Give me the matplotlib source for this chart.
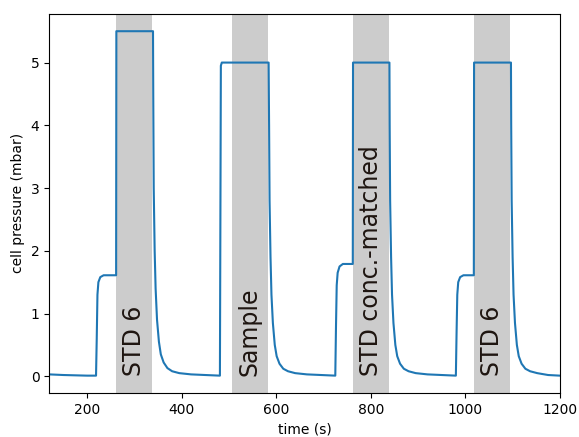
import numpy as np
import matplotlib.pyplot as plt

# cell pressure trace (time in s, pressure in mbar)
time_s = [120, 150, 200, 219, 220.5, 222, 224, 228, 235, 261.5, 262, 339.5,
          340, 341, 343, 345, 348, 352, 356, 362, 370, 380, 395, 420, 450, 481,
          482, 483, 485, 584, 585, 586, 588, 590, 593, 597, 601, 607, 615, 625,
          640, 665, 695, 725,
          726.5, 728, 730, 734, 741, 762, 762.5, 839.5, 840, 841, 843, 845, 848,
          852, 856, 862, 870, 880, 895, 920, 950, 980,
          981.5, 983, 985, 989, 996, 1018, 1018.5, 1096.5, 1097, 1098, 1100,
          1102, 1105, 1109, 1113, 1119, 1127, 1137, 1152, 1175, 1200]
pressure = [0.03, 0.02, 0.01, 0.01, 0.6, 1.3, 1.5, 1.58, 1.61, 1.61, 5.5, 5.5,
            4.5, 3.0, 2.0, 1.4, 0.9, 0.55, 0.35, 0.22, 0.13, 0.08, 0.05, 0.03, 0.02, 0.01,
            2.5, 4.95, 5.0, 5.0, 4.0, 2.8, 1.9, 1.3, 0.85, 0.5, 0.32, 0.2, 0.12, 0.08,
            0.05, 0.03, 0.02, 0.01,
            0.8, 1.45, 1.65, 1.75, 1.79, 1.79, 5.0, 5.0, 4.0, 2.8, 1.9, 1.3, 0.85,
            0.5, 0.32, 0.2, 0.12, 0.08, 0.05, 0.03, 0.02, 0.01,
            0.7, 1.3, 1.5, 1.58, 1.61, 1.61, 5.0, 5.0, 4.0, 2.8, 1.9,
            1.3, 0.85, 0.5, 0.32, 0.2, 0.12, 0.08, 0.05, 0.02, 0.01]

# shaded injection windows and their labels
span_start = [262, 507, 762, 1018]
span_end = [338, 582, 839, 1094]
span_labels = ['STD 6', 'Sample', 'STD conc.-matched', 'STD 6']

fig = plt.figure(figsize=(5.79, 4.37), dpi=100)
ax = fig.add_axes([0.085, 0.101, 0.882, 0.867])

for s, e, lab in zip(span_start, span_end, span_labels):
    ax.axvspan(s, e, color='#cccccc', lw=0, zorder=0)
    ax.text((s + e) / 2, 0, lab, rotation=90, ha='center', va='bottom',
            fontsize=17, color='#1e1510', zorder=1)

ax.plot(time_s, pressure, color='#1f77b4', lw=1.5, zorder=2)

ax.set_xlim(120, 1200)
ax.set_xlabel('time (s)')
ax.set_ylabel('cell pressure (mbar)')

fig.savefig('out.png', dpi=100)
